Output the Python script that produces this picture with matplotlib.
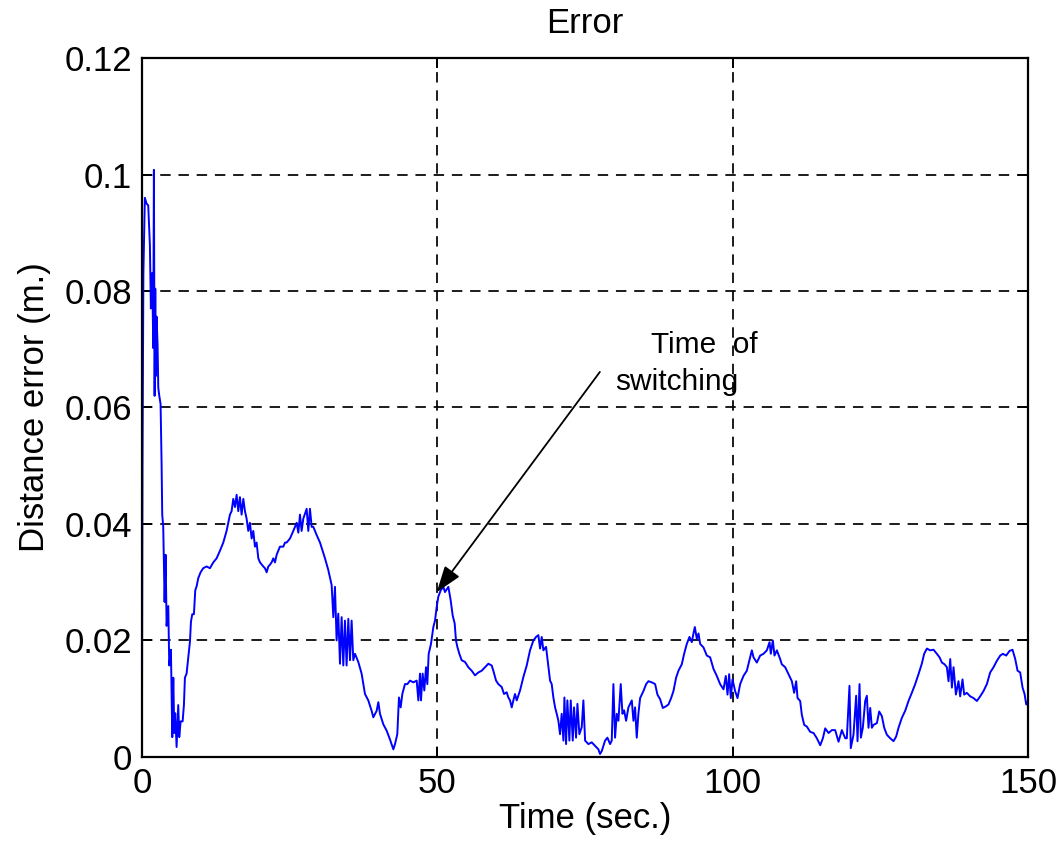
import matplotlib
matplotlib.use("Agg")
import matplotlib.pyplot as plt

plt.rcParams['font.family'] = ['Liberation Sans', 'DejaVu Sans']

title = "Error"
xlabel = "Time (sec.)"
ylabel = "Distance error (m.)"
xticks = [0, 50, 100, 150]
yticks = [0, 0.02, 0.04, 0.06, 0.08, 0.1, 0.12]
ytick_labels = ["0", "0.02", "0.04", "0.06", "0.08", "0.1", "0.12"]
annot_line1 = "Time  of"
annot_line2 = "switching"
switch_point = (49.9, 0.0283)
annot_tail = (77.5, 0.0661)

time_s = [
    0.0, 0.1, 0.25, 0.5, 0.79, 1.07, 1.35, 1.52, 1.64, 1.75, 1.92, 2.03, 2.15, 2.26, 2.37, 2.48,
    2.65, 2.77, 2.94, 3.16, 3.33, 3.44, 3.61, 3.84, 4.01, 4.18, 4.46, 4.63, 4.91, 5.14, 5.31,
    5.48, 5.64, 5.87, 6.15, 6.32, 6.55, 6.89, 7.11, 7.28, 7.56, 7.84, 8.13, 8.30, 8.52, 8.80,
    9.03, 9.26, 9.54, 9.93, 10.38, 10.95, 11.51, 12.08, 12.64, 13.21, 13.77, 14.33, 14.90,
    15.18, 15.46, 15.75, 16.03, 16.31, 16.59, 16.87, 17.16, 17.44, 17.72, 18.0, 18.28, 18.57,
    18.85, 19.13, 19.41, 19.70, 19.98, 20.54, 20.82, 21.11, 21.39, 21.67, 21.95, 22.24, 22.52,
    22.80, 23.08, 23.36, 23.93, 24.21, 24.49, 25.06, 25.62, 26.19, 26.47, 26.75, 27.03, 27.31,
    27.88, 28.16, 28.44, 28.73, 29.01, 29.29, 29.57, 30.14,
    30.98, 31.54, 32.11, 32.39, 32.67, 32.95, 33.23, 33.52, 33.8, 34.08, 34.36, 34.64, 34.93,
    35.21, 35.49, 35.77, 36.06, 36.62, 37.18, 37.75, 38.31, 38.88, 39.16, 39.72, 40.01, 40.29,
    40.85, 41.42, 41.98, 42.55, 42.83, 43.22, 43.5, 43.79, 44.07, 44.52, 44.92, 45.37, 45.93,
    46.5, 46.78, 47.06, 47.23, 47.51, 47.79, 48.08, 48.3, 48.53, 48.92, 49.32, 49.6, 49.88,
    50.16, 50.56, 51.01, 51.29, 51.86, 52.25, 52.59, 52.93, 53.15, 53.38, 53.72, 54.11, 54.68,
    55.24, 55.81, 56.37, 56.94, 57.5, 58.06, 58.63, 59.19, 59.47, 59.93, 60.32, 60.89, 61.28,
    61.73, 62.01, 62.3, 62.58, 62.86, 63.14, 63.43, 63.99, 64.55, 65.12, 65.68, 66.25, 66.7,
    67.09, 67.38, 67.66, 67.94, 68.39, 68.79, 69.07, 69.35, 69.63, 69.92, 70.2, 70.48, 70.76,
    71.04, 71.33, 71.5, 71.78, 72.0, 72.34, 72.57, 72.91, 73.13, 73.47, 73.7, 74.03, 74.43,
    74.71, 75.0, 75.56, 76.12, 76.69, 77.25, 77.53, 77.82, 78.38, 78.78, 79.23, 79.51, 79.79,
    80.07, 80.36, 80.64, 81.03, 81.32, 81.6, 81.94, 82.33, 82.9, 83.18, 83.46, 83.74, 84.02,
    84.31, 84.87, 85.33, 85.72, 86.29, 86.85, 87.24, 87.7, 88.15, 88.71, 89.11, 89.56, 89.95,
    90.4, 90.8, 91.36, 91.76, 92.21, 92.66, 93.06, 93.34, 93.57, 93.9, 94.19, 94.47, 95.03,
    95.6, 96.16, 96.73, 97.29, 97.85, 98.42, 98.81, 99.1, 99.38, 99.66, 99.94, 100.39, 100.79,
    101.24, 101.8, 102.37, 102.93, 103.22, 103.5, 104.06, 104.63, 105.19, 105.76, 106.21,
    106.43, 106.77, 107.05, 107.45, 108.01, 108.29, 108.86, 109.42, 109.99, 110.38, 110.72,
    110.95, 111.4, 111.68, 112.08, 112.53, 113.09, 113.66, 114.22, 114.79, 115.24, 115.63,
    116.2, 116.76, 117.32, 117.89, 118.45, 119.02,
    119.29, 119.74, 119.96, 120.42, 120.87, 121.1, 121.44, 121.67, 122.0, 122.4, 122.68,
    122.96, 123.25, 123.53, 123.81, 124.38, 124.77, 125.22, 125.62, 126.07, 126.63, 127.2,
    127.64, 128.04, 128.6, 129.16, 129.73, 130.29, 130.86, 131.42, 131.98, 132.38, 132.84,
    133.4, 133.97, 134.53, 134.98, 135.38, 135.83, 136.22, 136.5, 136.79, 137.07, 137.35,
    137.75, 138.19, 138.47, 138.87, 139.15, 139.6, 140.17, 140.73, 141.3, 141.86, 142.42,
    142.99, 143.55, 144.12, 144.68, 145.25, 145.7, 146.26, 146.83, 147.33, 147.79, 148.18,
    148.63, 149.03, 149.37, 149.65, 149.9,
]

distance_error = [
    0.0, 0.05, 0.083, 0.096, 0.095, 0.0947, 0.0879, 0.077, 0.0824, 0.0831, 0.0702, 0.1008,
    0.062, 0.0804, 0.0654, 0.0756, 0.0708, 0.0634, 0.062, 0.0606, 0.0504, 0.0416, 0.0395,
    0.0266, 0.0347, 0.0225, 0.0259, 0.0157, 0.0184, 0.0034, 0.0136, 0.0041, 0.0075, 0.0017,
    0.0089, 0.0034, 0.0061, 0.0061, 0.0089, 0.0136, 0.0143, 0.017, 0.0198, 0.0232, 0.0245,
    0.0245, 0.0286, 0.0293, 0.0307, 0.0317, 0.0324, 0.0327, 0.0324, 0.0334, 0.0341, 0.0354,
    0.0368, 0.0388, 0.0416, 0.0422, 0.0443, 0.0429, 0.045, 0.0422, 0.0446, 0.0416, 0.0443,
    0.0422, 0.0409, 0.0388, 0.0402, 0.0375, 0.0388, 0.0361, 0.0368, 0.0341, 0.0334, 0.0327,
    0.0324, 0.0317, 0.0327, 0.033, 0.0334, 0.0341, 0.0334, 0.0347, 0.0354, 0.0361, 0.0361,
    0.0368, 0.0368, 0.0375, 0.0388, 0.0402, 0.0385, 0.0416, 0.0388, 0.0409, 0.0426, 0.0388,
    0.0426, 0.0395, 0.0395, 0.0388, 0.0381, 0.0368,
    0.0341, 0.0321, 0.0295, 0.024, 0.0292, 0.02, 0.0246, 0.016, 0.024, 0.0157, 0.0234, 0.0157,
    0.0237, 0.0166, 0.0234, 0.0166, 0.0177, 0.0163, 0.0143, 0.0108, 0.0097, 0.0079, 0.0068,
    0.0079, 0.0094, 0.0074, 0.0056, 0.0045, 0.003, 0.0013, 0.0022, 0.0039, 0.0102, 0.0085,
    0.0108, 0.0125, 0.0125, 0.0131, 0.0128, 0.0131, 0.0097, 0.0143, 0.0097, 0.0143, 0.0114,
    0.0154, 0.0125, 0.0177, 0.0194, 0.0223, 0.0234, 0.0257, 0.0275, 0.0286, 0.0292, 0.0283,
    0.0292, 0.0269, 0.0243, 0.0229, 0.02, 0.0189, 0.0177, 0.0166, 0.0163, 0.0154, 0.0148,
    0.014, 0.0145, 0.0148, 0.0154, 0.016, 0.0157, 0.0148, 0.0131, 0.0125, 0.012, 0.0108,
    0.0111, 0.0102, 0.0097, 0.0085, 0.0097, 0.0108, 0.0097, 0.0114, 0.0137, 0.0157, 0.0183,
    0.02, 0.0206, 0.0209, 0.0186, 0.0206, 0.0183, 0.0189, 0.0154, 0.0131, 0.0125, 0.0102,
    0.0085, 0.0074, 0.0062, 0.0039, 0.0074, 0.0028, 0.0102, 0.0022, 0.0097, 0.0028, 0.0097,
    0.0028, 0.0085, 0.0033, 0.0091, 0.0039, 0.0051, 0.0097, 0.0028, 0.0022, 0.0025, 0.0019,
    0.0013, 0.0005, 0.001, 0.0028, 0.0033, 0.0022, 0.0028, 0.0125, 0.0033, 0.0074, 0.0062,
    0.0125, 0.0074, 0.008, 0.0062, 0.0085, 0.0097, 0.0062, 0.0085, 0.0033, 0.0074,
    0.0101, 0.0113, 0.0125, 0.013, 0.0128, 0.0125, 0.0107, 0.0099, 0.0084, 0.0087, 0.009,
    0.0101, 0.0113, 0.0136, 0.0148, 0.0159, 0.0177, 0.0194, 0.0206, 0.0197, 0.0212, 0.0223,
    0.0203, 0.0212, 0.0194, 0.0188, 0.0174, 0.0171, 0.0151, 0.0139, 0.0125, 0.0116, 0.0139,
    0.0107, 0.0142, 0.0101, 0.0133, 0.0113, 0.0101, 0.0125, 0.0139, 0.0148, 0.0171, 0.0183,
    0.0171, 0.0162, 0.0174, 0.0177, 0.0183, 0.0197, 0.0177, 0.02, 0.0174, 0.0183, 0.0168,
    0.0159, 0.0154, 0.0142, 0.013, 0.011, 0.013, 0.0101, 0.0096, 0.0072, 0.0055, 0.0052,
    0.0043, 0.0041, 0.0032, 0.002, 0.0032, 0.0049, 0.0041, 0.0046, 0.0046, 0.0026, 0.0046,
    0.0032,
    0.0032, 0.0122, 0.0015, 0.0038, 0.0105, 0.0027, 0.0125, 0.0033, 0.005, 0.0096, 0.0105,
    0.005, 0.0084, 0.005, 0.0055, 0.0058, 0.0078, 0.007, 0.005, 0.0038, 0.0032, 0.0027,
    0.0035, 0.005, 0.0067, 0.0079, 0.0096, 0.011, 0.0125, 0.0142, 0.016, 0.0177, 0.0186,
    0.0183, 0.0184, 0.0177, 0.0171, 0.0162, 0.0159, 0.0154, 0.013, 0.0168, 0.0119, 0.0154,
    0.0107, 0.013, 0.0104, 0.0133, 0.0107, 0.011, 0.0104, 0.0101, 0.0096, 0.0104, 0.0113,
    0.0125, 0.0145, 0.0154, 0.0165, 0.0174, 0.0177, 0.0174, 0.0182, 0.0184, 0.0168, 0.0148,
    0.0145, 0.0119, 0.0108, 0.009, 0.0095,
]

fig = plt.figure(figsize=(10.59, 8.41), dpi=100)
ax = fig.add_axes([0.134, 0.1, 0.837, 0.831])

ax.plot(time_s, distance_error, color='#0000ff', linewidth=1.4)

ax.set_xlim(0, 150)
ax.set_ylim(0, 0.12)
ax.set_xticks(xticks)
ax.set_xticklabels([str(v) for v in xticks])
ax.set_yticks(yticks)
ax.set_yticklabels(ytick_labels)

ax.grid(True, color='black', linestyle=(0, (6, 4.5)), linewidth=1.25)
ax.tick_params(direction='in', length=7, width=1.4, top=True, right=True,
               labelsize=25, pad=7)
for s in ax.spines.values():
    s.set_linewidth(1.6)

ax.set_title(title, fontsize=25, pad=18)
ax.set_xlabel(xlabel, fontsize=25, labelpad=2)
ax.set_ylabel(ylabel, fontsize=25, labelpad=10)

ax.annotate("", xy=switch_point, xytext=annot_tail,
            arrowprops=dict(arrowstyle='-|>,head_length=0.8,head_width=0.28',
                            color='black', lw=1.3, mutation_scale=20,
                            shrinkA=0, shrinkB=0))
ax.text(86.2, 0.0707, annot_line1, fontsize=21.5, va='center', ha='left')
ax.text(80.1, 0.0644, annot_line2, fontsize=21.5, va='center', ha='left')

fig.savefig("out.png", dpi=100)
